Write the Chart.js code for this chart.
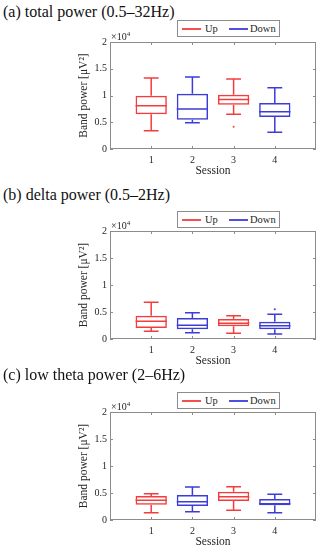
<!DOCTYPE html>
<html>
<head>
<meta charset="utf-8">
<script src="https://cdn.jsdelivr.net/npm/chart.js@4"></script>
<style>
  body { margin: 0; background: #fff; }
  #fig { position: relative; width: 321px; height: 550px; overflow: hidden; font-family: "Liberation Serif", "Times New Roman", serif; }
  .title { position: absolute; left: 3px; font-size: 16px; line-height: 16px; color: #111; white-space: nowrap; }
  canvas { position: absolute; left: 0; }
  .legend { position: absolute; left: 177px; width: 101px; height: 15px; border: 1px solid #8c8c8c; background: #fff;
            font-size: 10.5px; line-height: 15px; color: #262626; z-index: 2; }
  .legend span { position: absolute; top: 0; }
  .legend i { position: absolute; top: 7px; height: 1.5px; width: 19px; }
</style>
</head>
<body>
<div id="fig">
  <div class="title" style="top:4px">(a) total power (0.5–32Hz)</div>
  <div class="legend" style="top:20px">
    <i style="left:4px;background:#f55050"></i><span style="left:27px">Up</span>
    <i style="left:51px;background:#5050e0"></i><span style="left:72px">Down</span>
  </div>
  <canvas id="chartA" width="321" height="158" style="top:20px"></canvas>

  <div class="title" style="top:187px">(b) delta power (0.5–2Hz)</div>
  <div class="legend" style="top:211px">
    <i style="left:4px;background:#f55050"></i><span style="left:27px">Up</span>
    <i style="left:51px;background:#5050e0"></i><span style="left:72px">Down</span>
  </div>
  <canvas id="chartB" width="321" height="159" style="top:209px"></canvas>

  <div class="title" style="top:367px">(c) low theta power (2–6Hz)</div>
  <div class="legend" style="top:392px">
    <i style="left:4px;background:#f55050"></i><span style="left:27px">Up</span>
    <i style="left:51px;background:#5050e0"></i><span style="left:72px">Down</span>
  </div>
  <canvas id="chartC" width="321" height="159" style="top:390px"></canvas>
</div>

<script>
/* ── Data ────────────────────────────────────────────── */
const sessions = [1, 2, 3, 4];
const sessionGroup = ['Up', 'Down', 'Up', 'Down'];
const yTicks = [0, 5000, 10000, 15000, 20000];

// (a) total power, µV²
const totalMin = [3430, 4920, 6480, 3120];
const totalQ1  = [6480, 5480, 8290, 5980];
const totalMed = [8100, 7480, 9250, 6980];
const totalQ3  = [9970, 10340, 10160, 8600];
const totalMax = [13270, 13460, 13080, 11460];
const totalOut = [null, null, 4170, null];

// (b) delta power
const deltaMin = [1420, 1170, 1050, 930];
const deltaQ1  = [2040, 1790, 2350, 1790];
const deltaMed = [3270, 2530, 2900, 2470];
const deltaQ3  = [4320, 3890, 3700, 3210];
const deltaMax = [6790, 4880, 4320, 4570];
const deltaOut = [null, null, null, 5490];

// (c) low theta power
const thetaMin = [1360, 1540, 1790, 1360];
const thetaQ1  = [2840, 2590, 3520, 2720];
const thetaMed = [3640, 3400, 4320, 3020];
const thetaQ3  = [4440, 4630, 5250, 3890];
const thetaMax = [4880, 6110, 6170, 4750];
const thetaOut = [null, null, null, null];

const groupColors = { Up: '#f53c3c', Down: '#3c3cd8' };
const tickColor = '#262626';

Chart.defaults.font.family = '"Liberation Serif", "Times New Roman", serif';
Chart.defaults.color = tickColor;

/* ── Box plot helper plugin ──────────────────────────── */
const boxWhiskers = {
  id: 'boxWhiskers',
  afterDatasetsDraw(chart, args, opts) {
    const { ctx, chartArea: a, scales: { x, y } } = chart;
    ctx.save();

    // medians, whiskers and caps
    ctx.lineWidth = 1.5;
    sessions.forEach((s, i) => {
      ctx.strokeStyle = groupColors[sessionGroup[i]];
      const cx = x.getPixelForValue(s);
      const bl = x.getPixelForValue(s - 0.38), br = x.getPixelForValue(s + 0.38);
      const cl = x.getPixelForValue(s - 0.18), cr = x.getPixelForValue(s + 0.18);
      ctx.beginPath();
      ctx.moveTo(bl, y.getPixelForValue(opts.med[i]));
      ctx.lineTo(br, y.getPixelForValue(opts.med[i]));
      ctx.moveTo(cx, y.getPixelForValue(opts.q3[i]));
      ctx.lineTo(cx, y.getPixelForValue(opts.max[i]));
      ctx.moveTo(cx, y.getPixelForValue(opts.q1[i]));
      ctx.lineTo(cx, y.getPixelForValue(opts.min[i]));
      ctx.moveTo(cl, y.getPixelForValue(opts.max[i]));
      ctx.lineTo(cr, y.getPixelForValue(opts.max[i]));
      ctx.moveTo(cl, y.getPixelForValue(opts.min[i]));
      ctx.lineTo(cr, y.getPixelForValue(opts.min[i]));
      ctx.stroke();
    });

    // axes box and inward tick marks
    ctx.strokeStyle = '#8c8c8c';
    ctx.lineWidth = 1;
    ctx.strokeRect(a.left + 0.5, a.top + 0.5, a.width - 1, a.height - 1);
    ctx.beginPath();
    y.ticks.forEach(t => {
      const py = Math.round(y.getPixelForValue(t.value)) + 0.5;
      ctx.moveTo(a.left, py); ctx.lineTo(a.left + 3, py);
      ctx.moveTo(a.right, py); ctx.lineTo(a.right - 3, py);
    });
    x.ticks.forEach(t => {
      const px = Math.round(x.getPixelForValue(t.value)) + 0.5;
      ctx.moveTo(px, a.bottom); ctx.lineTo(px, a.bottom - 3);
      ctx.moveTo(px, a.top); ctx.lineTo(px, a.top + 3);
    });
    ctx.stroke();

    // exponent label
    ctx.fillStyle = tickColor;
    ctx.textBaseline = 'alphabetic';
    ctx.font = '10px "Liberation Serif", serif';
    ctx.fillText('×10', a.left + 1, a.top - 2);
    const w = ctx.measureText('×10').width;
    ctx.font = '7px "Liberation Serif", serif';
    ctx.fillText('4', a.left + 1 + w, a.top - 6);
    ctx.restore();
  }
};

/* ── Panels ──────────────────────────────────────────── */
function boxData(group, q1, q3) {
  return sessions
    .map((s, i) => ({ x: s, y: [q1[i], q3[i]], g: sessionGroup[i] }))
    .filter(p => p.g === group);
}

function makePanel(id, min, q1, med, q3, max, out) {
  const outliers = sessions
    .map((s, i) => ({ x: s, y: out[i], c: groupColors[sessionGroup[i]] }))
    .filter(p => p.y !== null);

  const barSet = group => ({
    label: group,
    data: boxData(group, q1, q3),
    backgroundColor: 'rgba(255,255,255,0)',
    borderColor: groupColors[group],
    borderWidth: 1.5,
    borderSkipped: false,
    grouped: false,
    categoryPercentage: 1,
    barPercentage: 0.76
  });

  return new Chart(document.getElementById(id), {
    type: 'bar',
    data: {
      datasets: [
        barSet('Up'),
        barSet('Down'),
        {
          type: 'scatter',
          label: 'outliers',
          data: outliers,
          pointRadius: 1,
          pointBorderWidth: 0,
          pointBackgroundColor: outliers.map(p => p.c)
        }
      ]
    },
    options: {
      responsive: false,
      animation: false,
      layout: { padding: { top: 22, left: 76, right: 5, bottom: 0 } },
      plugins: {
        legend: { display: false },
        tooltip: { enabled: false },
        boxWhiskers: { min, q1, med, q3, max }
      },
      scales: {
        x: {
          type: 'linear',
          offset: false,
          min: 0, max: 5,
          grid: { display: false, drawTicks: false },
          border: { display: false },
          ticks: { stepSize: 1, padding: 5, font: { size: 10 }, color: tickColor },
          afterBuildTicks: s => { s.ticks = s.ticks.filter(t => t.value >= 1 && t.value <= 4); },
          afterFit: s => { s.height = 29; },
          title: { display: true, text: 'Session', font: { size: 11.5 }, color: tickColor, padding: { top: 0, bottom: 0 } }
        },
        y: {
          min: 0, max: 20000,
          grid: { display: false, drawTicks: false },
          border: { display: false },
          afterBuildTicks: s => { s.ticks = yTicks.map(v => ({ value: v })); },
          ticks: { padding: 3, font: { size: 10 }, color: tickColor, callback: v => String(v / 10000) },
          afterFit: s => { s.width = 34; },
          title: { display: true, text: 'Band power [μV²]', font: { size: 11.5 }, color: tickColor, padding: { top: 1, bottom: 0 } }
        }
      }
    },
    plugins: [boxWhiskers]
  });
}

makePanel('chartA', totalMin, totalQ1, totalMed, totalQ3, totalMax, totalOut);
makePanel('chartB', deltaMin, deltaQ1, deltaMed, deltaQ3, deltaMax, deltaOut);
makePanel('chartC', thetaMin, thetaQ1, thetaMed, thetaQ3, thetaMax, thetaOut);
</script>
</body>
</html>
